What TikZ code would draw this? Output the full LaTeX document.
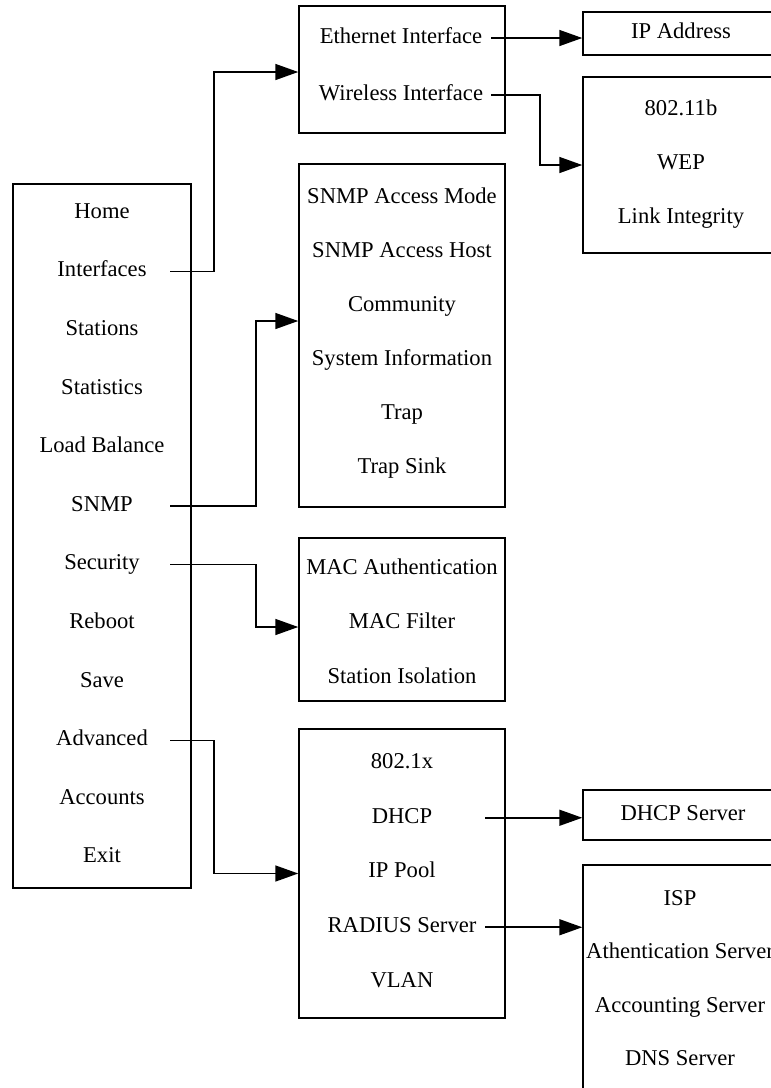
\documentclass[tikz,border=0pt]{standalone}
\usepackage{fontspec}
\setmainfont{Liberation Serif}
\usetikzlibrary{arrows.meta,positioning,calc}

\begin{document}
\begin{tikzpicture}[
  x=1pt,y=-1pt,
  panel/.style={draw,line width=1.5pt,inner sep=0pt},
  entry/.style={font=\fontsize{22.6}{27}\selectfont,inner sep=0pt,
    text height=1.3em,text depth=.24em},
  flow/.style={-{Triangle[length=23pt,width=16pt]},line width=1.6pt}
]
\useasboundingbox (0,0) rectangle (771,1088);
\clip (0,0) rectangle (771,1088);
% boxes
\node[panel,minimum width=178,minimum height=704] (menu) at (102,536) {};
\node[panel,minimum width=206,minimum height=127] (ifc) at (402,69.5) {};
\node[panel,minimum width=206,minimum height=343] (snmp) at (402,335.5) {};
\node[panel,minimum width=206,minimum height=163] (sec) at (402,619.5) {};
\node[panel,minimum width=206,minimum height=289] (adv) at (402,873.5) {};
\node[panel,minimum width=196,minimum height=43] (ip) at (681,33.5) {};
\node[panel,minimum width=196,minimum height=176] (wl) at (681,165) {};
\node[panel,minimum width=196,minimum height=50] (dhcp) at (681,815) {};
\node[panel,minimum width=196,minimum height=250] (isp) at (681,990) {};
% menu entries
\foreach \txt [count=\i] in {Home,Interfaces,Stations,Statistics,Load Balance,
  SNMP,Security,Reboot,Save,Advanced,Accounts,Exit}
  \node[entry,minimum width=136] (m\i) at (102,{213+58.6*(\i-1)}) {\txt};
\node[entry,minimum width=180] (e1) at (401,38) {Ethernet Interface};
\node[entry,minimum width=180] (e2) at (401,95) {Wireless Interface};
\node[entry] (ipa) at (681,33) {IP Address};
\foreach \txt [count=\i] in {802.11b,WEP,Link Integrity}
  \node[entry] (w\i) at (681,{110+54*(\i-1)}) {\txt};
\foreach \txt [count=\i] in {SNMP Access Mode,SNMP Access Host,Community,
  System Information,Trap,Trap Sink}
  \node[entry] (s\i) at (402,{198+54*(\i-1)}) {\txt};
\foreach \txt [count=\i] in {MAC Authentication,MAC Filter,Station Isolation}
  \node[entry] (c\i) at (402,{569+54.5*(\i-1)}) {\txt};
\foreach \txt [count=\i] in {802.1x,DHCP,IP Pool,RADIUS Server,VLAN}
  \node[entry,minimum width=166] (a\i) at (402,{763+54.75*(\i-1)}) {\txt};
\node[entry] (ds) at (683,815) {DHCP Server};
\foreach \txt [count=\i] in {ISP,Athentication Server,Accounting Server,DNS Server}
  \node[entry] (p\i) at (680,{900+53.4*(\i-1)}) {\txt};
% arrows
\coordinate (ifcin) at ([yshift=-2.5pt]ifc.west);
\coordinate (snmpin) at ([yshift=14.5pt]snmp.west);
\coordinate (secin) at ([yshift=-7.5pt]sec.west);
\draw[flow] (m2.east) -| ([xshift=-84pt]ifcin) -- (ifcin);
\draw[flow] (m6.east) -| ([xshift=-42pt]snmpin) -- (snmpin);
\draw[flow] (m7.east) -| ([xshift=-42pt]secin) -- (secin);
\draw[flow] (m10.east) -| ([xshift=-84pt]adv.west) -- (adv.west);
\draw[flow] (e1.east) -- (e1.east -| ip.west);
\draw[flow] (e2.east) -| ([xshift=-42pt]wl.west) -- (wl.west);
\draw[flow] (a2.east) -- (a2.east -| dhcp.west);
\draw[flow] (a4.east) -- (a4.east -| isp.west);
\end{tikzpicture}
\end{document}
